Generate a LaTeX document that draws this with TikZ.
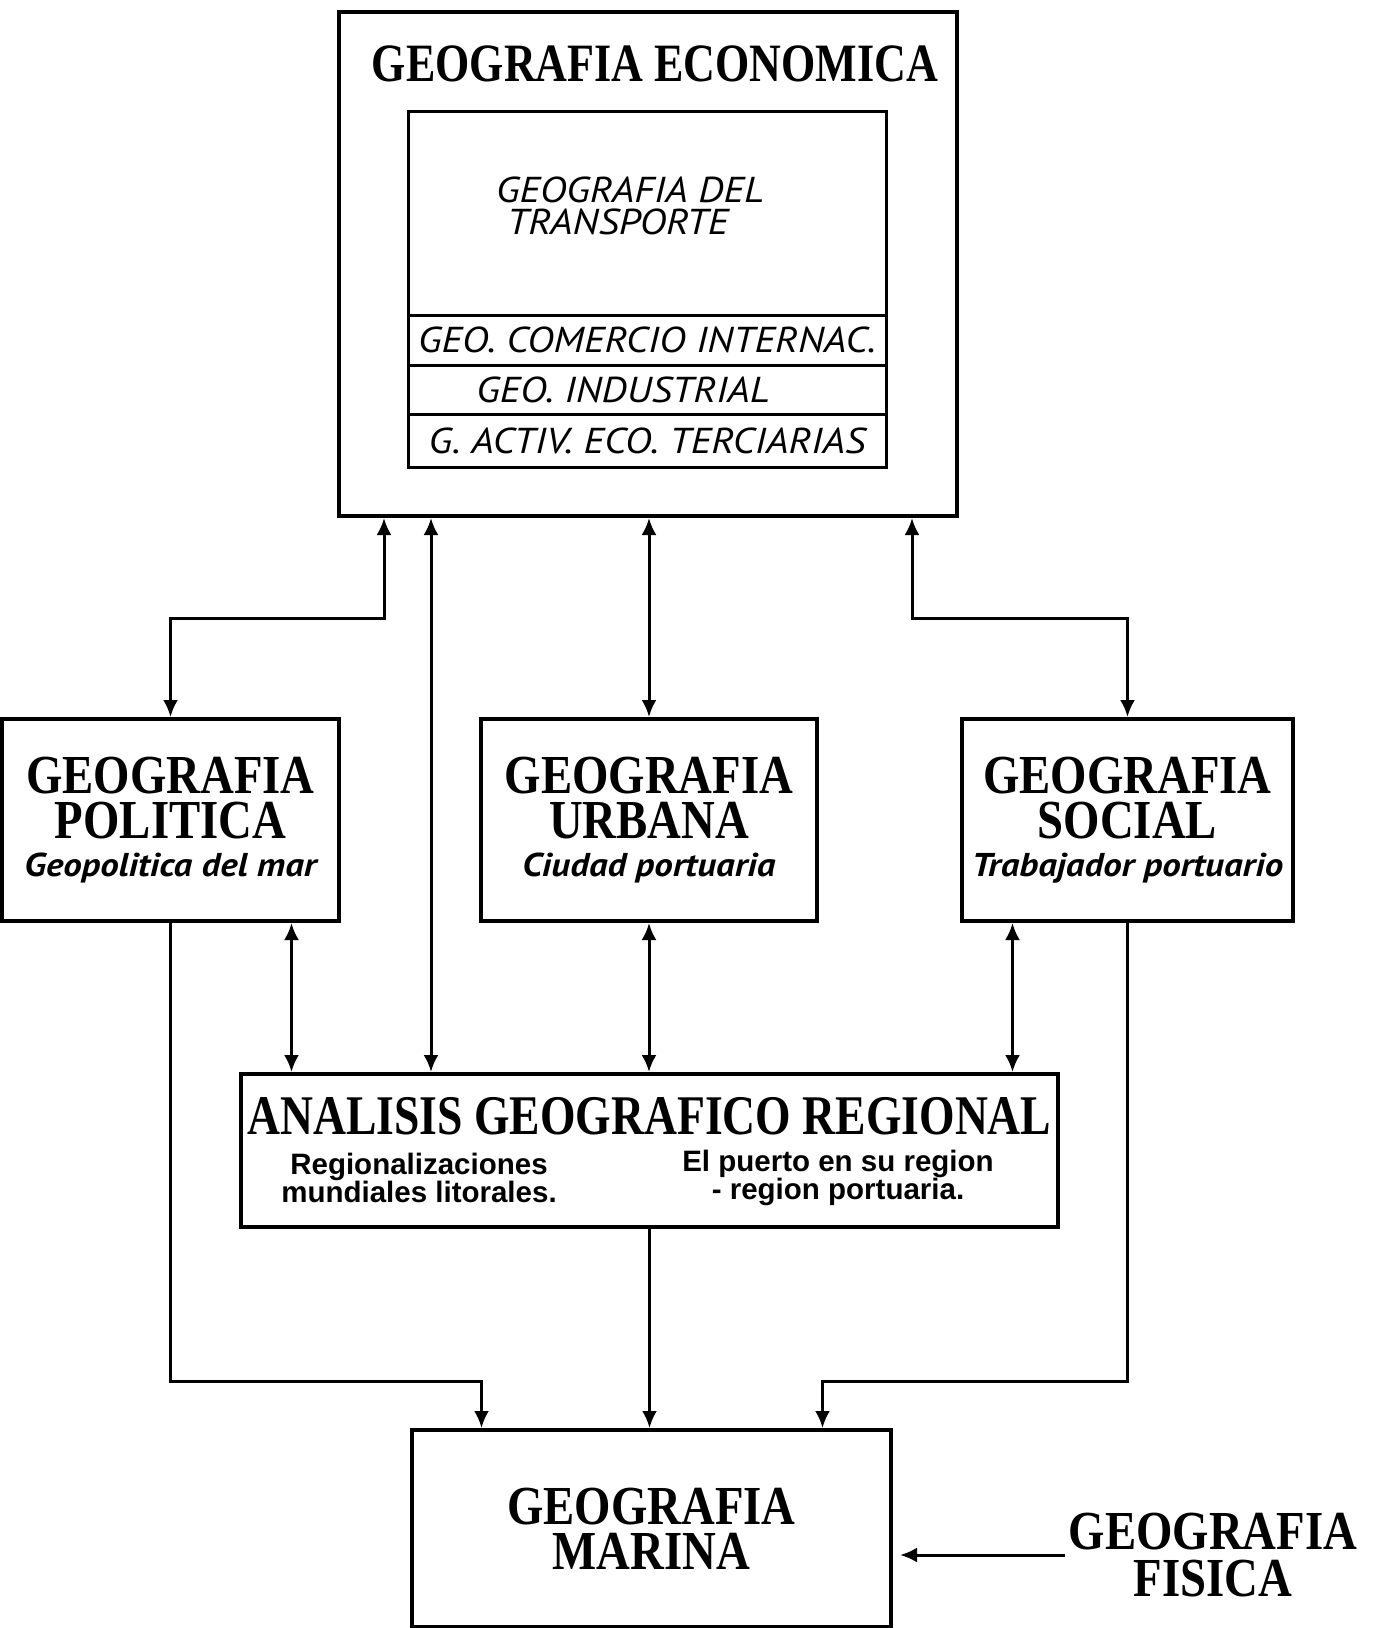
\documentclass[tikz,border=0pt]{standalone}
\usepackage{fontspec}
\setmainfont{Liberation Serif}
\newfontfamily\titlefont[FakeStretch=0.85]{Liberation Serif}
\newfontfamily\narrowfont[FakeStretch=0.815]{Liberation Serif}
\newfontfamily\itfont[FakeStretch=1.12]{PT Sans}
\newfontfamily\subfont{Liberation Sans}
\usetikzlibrary{arrows.meta,positioning}

\begin{document}
\begin{tikzpicture}[x=1pt,y=-1pt,
  >={Latex[length=17pt,width=15pt]},
  frame/.style={draw, line width=4pt, inner sep=0pt},
  row/.style={draw, line width=3pt, outer sep=0pt, minimum width=478pt,
    font=\itfont\itshape\fontsize{36}{34}\selectfont},
  ttl/.style={align=center, font=\titlefont\bfseries\fontsize{55}{45}\selectfont},
  subit/.style={font=\itfont\itshape\fontsize{33}{40}\selectfont},
  subbf/.style={align=center, font=\subfont\bfseries\fontsize{29.5}{27}\selectfont},
  link/.style={line width=3pt, <->},
  feed/.style={line width=3pt, ->}]
  \useasboundingbox (0,0) rectangle (1377,1628);

  % economica with its inner block
  \node[frame, minimum width=618pt, minimum height=504pt] (eco) at (648,264) {};
  \node[font=\narrowfont\bfseries\fontsize{54}{54}\selectfont] (ecotitle) at (655,64)
    {GEOGRAFIA ECONOMICA};
  \node[row, minimum height=204pt] (transp) at (647,213) {};
  \node[align=left, font=\itfont\itshape\fontsize{36}{32}\selectfont] (transptext) at (630,206)
    {GEOGRAFIA DEL\\\hspace*{11pt}TRANSPORTE};
  \node[row, minimum height=50pt, below=0pt of transp] (comercio) {GEO. COMERCIO INTERNAC.};
  \node[row, minimum height=49pt, below=0pt of comercio] (industrial)
    {GEO. INDUSTRIAL\kern48pt};
  \node[row, minimum height=53pt, below=0pt of industrial] (terciarias)
    {G. ACTIV. ECO. TERCIARIAS};

  % middle row
  \node[frame, ttl, minimum width=337pt, minimum height=202pt] (politica) at (170.5,820)
    {GEOGRAFIA\\POLITICA\\[-7pt]{\itfont\itshape\fontsize{33}{40}\selectfont Geopolitica del mar}};
  \node[frame, ttl, minimum width=336pt, minimum height=202pt] (urbana) at (649,820)
    {GEOGRAFIA\\URBANA\\[-7pt]{\itfont\itshape\fontsize{33}{40}\selectfont Ciudad portuaria}};
  \node[frame, ttl, minimum width=331pt, minimum height=202pt] (social) at (1127.5,820)
    {GEOGRAFIA\\SOCIAL\\[-7pt]{\itfont\itshape\fontsize{33}{40}\selectfont Trabajador portuario}};

  % regional analysis
  \node[frame, minimum width=817pt, minimum height=153pt] (analisis) at (649.5,1150.5) {};
  \node[font=\narrowfont\bfseries\fontsize{56}{56}\selectfont] (antitle) at (649.5,1116)
    {ANALISIS GEOGRAFICO REGIONAL};
  \node[subbf] (regional) at (419,1178) {Regionalizaciones\\mundiales litorales.};
  \node[subbf] (puerto) at (838,1178) {El puerto en su region\\- region portuaria.};

  % bottom
  \node[frame, ttl, minimum width=479pt, minimum height=197pt] (marina) at (651.5,1528.5)
    {GEOGRAFIA\\MARINA};
  \node[ttl, font=\titlefont\bfseries\fontsize{55}{47}\selectfont] (fisica) at (1213,1555)
    {GEOGRAFIA\\FISICA};

  % links to economica
  \draw[link] ([xshift=-264pt]eco.south) -- ++(0,100) -| (politica.north);
  \draw[link] ([xshift=-217pt]eco.south) -- ([xshift=-217pt]eco.south |- analisis.north);
  \draw[link] (eco.south -| urbana.north) -- (urbana.north);
  \draw[link] ([xshift=264pt]eco.south) -- ++(0,100) -| (social.north);

  % links to regional analysis
  \draw[link] ([xshift=121pt]politica.south) -- ([xshift=121pt]politica.south |- analisis.north);
  \draw[link] (urbana.south) -- (urbana.south |- analisis.north);
  \draw[link] ([xshift=-115pt]social.south) -- ([xshift=-115pt]social.south |- analisis.north);

  % into marina
  \draw[feed] (politica.south) -- ++(0,458) -| ([xshift=-170pt]marina.north);
  \draw[feed] (analisis.south) -- (analisis.south |- marina.north);
  \draw[feed] (social.south) -- ++(0,458) -| ([xshift=171pt]marina.north);
  \draw[feed, shorten >=7pt] (fisica.west) -- (fisica.west -| marina.east);
\end{tikzpicture}
\end{document}
